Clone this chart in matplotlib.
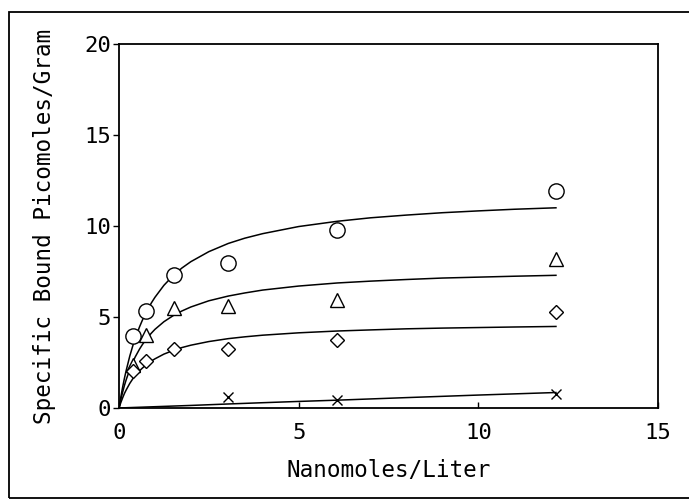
import matplotlib
matplotlib.use("Agg")
from matplotlib import pyplot as plt
from matplotlib.patches import Rectangle

# Data
conc = [0.38, 0.76, 1.52, 3.04, 6.08, 12.16]

circle_y = [3.95, 5.33, 7.29, 7.98, 9.76, 11.92]
triangle_y = [2.34, 4.03, 5.49, 5.60, 5.91, 8.20]
diamond_y = [2.01, 2.56, 3.26, 3.26, 3.71, 5.27]
cross_x = [3.04, 6.08, 12.16]
cross_y = [0.60, 0.42, 0.79]

# Fitted curves
curve_x = [0, 0.05, 0.1, 0.15, 0.2, 0.3, 0.38, 0.45, 0.57, 0.65, 0.76, 0.9,
           1.0, 1.25, 1.52, 1.75, 2.0, 2.5, 3.04, 3.5, 4.0, 5.0, 6.08, 7.0,
           8.0, 9.0, 10.0, 11.0, 12.16]
circle_fit = [0, 0.59, 1.13, 1.62, 2.06, 2.85, 3.39, 3.81, 4.45, 4.82, 5.27, 5.77,
              6.08, 6.74, 7.30, 7.69, 8.04, 8.59, 9.04, 9.33, 9.58, 9.97, 10.26, 10.45,
              10.60, 10.73, 10.83, 10.92, 11.00]
triangle_fit = [0, 0.46, 0.86, 1.23, 1.55, 2.12, 2.50, 2.80, 3.23, 3.48, 3.79, 4.11,
                4.32, 4.74, 5.09, 5.33, 5.55, 5.89, 6.15, 6.32, 6.48, 6.70, 6.87, 6.97,
                7.06, 7.14, 7.19, 7.24, 7.29]
diamond_fit = [0, 0.29, 0.55, 0.79, 0.99, 1.35, 1.59, 1.77, 2.04, 2.19, 2.38, 2.58,
               2.70, 2.96, 3.17, 3.32, 3.45, 3.65, 3.81, 3.91, 4.00, 4.13, 4.23, 4.29,
               4.35, 4.39, 4.42, 4.45, 4.48]
cross_line_x = [0, 1.0, 2.0, 3.04, 4.0, 5.0, 6.08, 8.0, 10.0, 12.16]
cross_fit = [0, 0.07, 0.14, 0.22, 0.29, 0.36, 0.43, 0.57, 0.71, 0.85]

xticks = [0, 5, 10, 15]
yticks = [0, 5, 10, 15, 20]

plt.rcParams['font.family'] = ['DejaVu Sans Mono', 'DejaVu Sans']

fig = plt.figure(figsize=(6.89, 4.99), dpi=100)
ax = fig.add_axes([0.1727, 0.1824, 0.7823, 0.7294])

# Kurvor
for yy in [circle_fit, triangle_fit, diamond_fit]:
    ax.plot(curve_x, yy, color="black", linewidth=1.1)
ax.plot(cross_line_x, cross_fit, color="black", linewidth=1.1)

# Punkter
ax.plot(conc, circle_y, "o", markersize=11, markerfacecolor="white",
        markeredgecolor="black", markeredgewidth=1.0)
ax.plot(conc, triangle_y, "^", markersize=10, markerfacecolor="white",
        markeredgecolor="black", markeredgewidth=1.0)
ax.plot(conc, diamond_y, "D", markersize=7.5, markerfacecolor="white",
        markeredgecolor="black", markeredgewidth=1.0)
ax.plot(cross_x, cross_y, "x", markersize=7.5, color="black",
        markeredgewidth=1.0)

ax.set_xlim(0, 15)
ax.set_ylim(0, 20)
ax.set_xticks(xticks)
ax.set_yticks(yticks)
ax.tick_params(axis="x", direction="in", length=4, width=1, pad=11, labelsize=16)
ax.tick_params(axis="y", direction="out", length=4, width=1, pad=2, labelsize=16)
for s in ax.spines.values():
    s.set_linewidth(1.3)

ax.set_xlabel("Nanomoles/Liter", fontsize=16.3, labelpad=11)
ax.set_ylabel("Specific Bound Picomoles/Gram", fontsize=16.3, labelpad=20)

# Ram runt figuren
fig.patches.append(Rectangle((0.013, 0.003), 1.2, 0.972, transform=fig.transFigure,
                             fill=False, edgecolor="black", linewidth=1.3))

fig.savefig("out.png", dpi=100)
